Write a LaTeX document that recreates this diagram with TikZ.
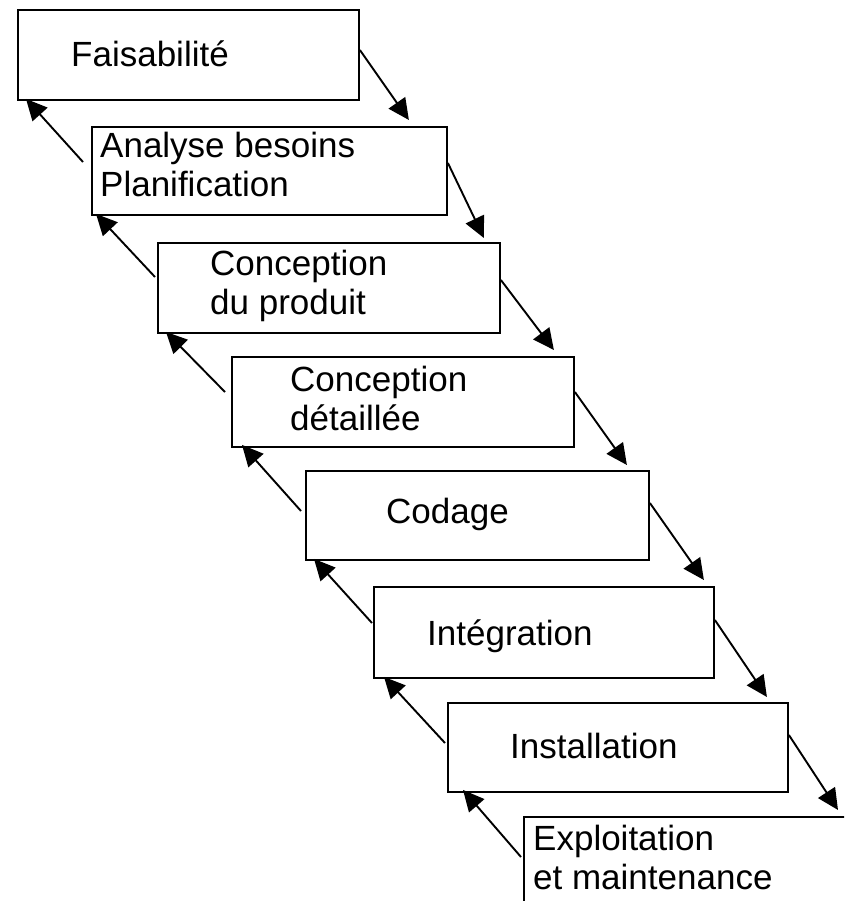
\documentclass[tikz,border=0pt]{standalone}
\usepackage{fontspec}
\setmainfont{Liberation Sans}
\usetikzlibrary{arrows.meta,calc}
\begin{document}
\begin{tikzpicture}[x=1pt,y=-1pt,
  box/.style={draw,line width=1.9pt,rectangle,anchor=north west,inner sep=0pt,minimum width=341pt,minimum height=89pt},
  lbl/.style={anchor=base west,inner sep=0pt,font=\fontsize{35}{39}\selectfont},
  arr/.style={line width=1.9pt,-{Triangle[length=21pt,width=20pt]}}]
\fill[white] (0,0) rectangle (844,901);
\clip (0,0) rectangle (844,901);
% boxes
\node[box,minimum height=90pt] (b1) at (17,9) {};
\node[box,minimum width=355pt,minimum height=88pt] (b2) at (91,126) {};
\node[box,minimum width=342pt,minimum height=90pt] (b3) at (157,242) {};
\node[box,minimum width=342pt,minimum height=90pt] (b4) at (231,356) {};
\node[box,minimum width=343pt] (b5) at (305,470) {};
\node[box,minimum width=340pt,minimum height=91pt] (b6) at (373,586) {};
\node[box,minimum width=340pt] (b7) at (447,702) {};
\node[box,minimum width=345pt,minimum height=95pt] (b8) at (523,816) {};
% labels
\node[lbl] (t1) at (71,67) {Faisabilité};
\node[lbl] (t2) at (100,158) {\begin{tabular}[t]{@{}l@{}}Analyse besoins\\Planification\end{tabular}};
\node[lbl] (t3) at (210,275) {\begin{tabular}[t]{@{}l@{}}Conception\\du produit\end{tabular}};
\node[lbl] (t4) at (290,391) {\begin{tabular}[t]{@{}l@{}}Conception\\détaillée\end{tabular}};
\node[lbl] (t5) at (386,523) {Codage};
\node[lbl] (t6) at (427,645) {Intégration};
\node[lbl] (t7) at (510,758) {Installation};
\node[lbl] (t8) at (533,850) {\begin{tabular}[t]{@{}l@{}}Exploitation\\et maintenance\end{tabular}};
% forward arrows
\draw[arr] ($(b1.north east)+(0,41)$) -- ($(b2.north east)+(-39,-6)$);
\draw[arr] ($(b2.north east)+(0,37)$) -- ($(b3.north east)+(-17,-4)$);
\draw[arr] ($(b3.north east)+(0,38)$) -- ($(b4.north east)+(-21,-6)$);
\draw[arr] ($(b4.north east)+(0,36)$) -- ($(b5.north east)+(-23,-5)$);
\draw[arr] ($(b5.north east)+(0,33)$) -- ($(b6.north east)+(-11,-6)$);
\draw[arr] ($(b6.north east)+(0,34)$) -- ($(b7.north east)+(-22,-5)$);
\draw[arr] ($(b7.north east)+(0,33)$) -- ($(b8.north west)+(315,-6)$);
% backward arrows
\draw[arr] ($(b2.north west)+(-8,36)$) -- ($(b1.south west)+(9,-2)$);
\draw[arr] ($(b3.north west)+(-2,35)$) -- ($(b2.south west)+(5,-2)$);
\draw[arr] ($(b4.north west)+(-6,36)$) -- ($(b3.south west)+(9,-2)$);
\draw[arr] ($(b5.north west)+(-4,41)$) -- ($(b4.south west)+(11,-3)$);
\draw[arr] ($(b6.north west)+(-1,37)$) -- ($(b5.south west)+(9,-2)$);
\draw[arr] ($(b7.north west)+(-2,41)$) -- ($(b6.south west)+(11,-2)$);
\draw[arr] ($(b8.north west)+(-2,41)$) -- ($(b7.south west)+(16,-3)$);
\end{tikzpicture}
\end{document}
